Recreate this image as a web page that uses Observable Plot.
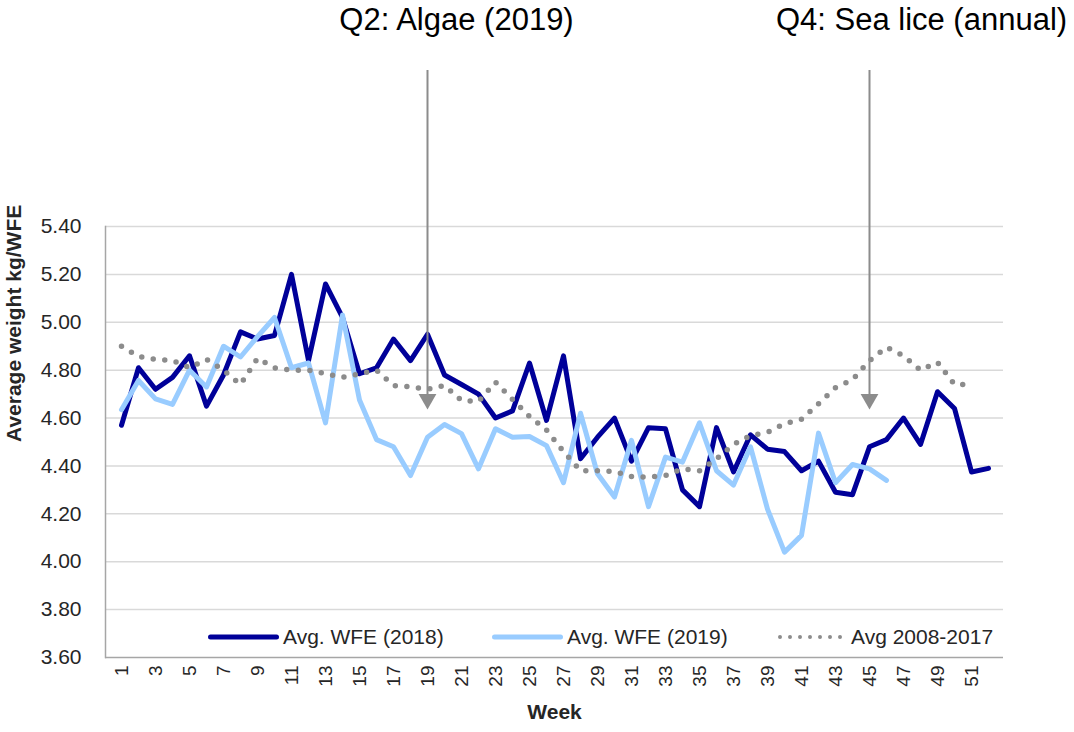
<!DOCTYPE html>
<html><head><meta charset="utf-8">
<script src="https://cdn.jsdelivr.net/npm/d3@7"></script>
<script src="https://cdn.jsdelivr.net/npm/@observablehq/plot@0.6"></script>
<style>
body{margin:0;background:#fff;font-family:"Liberation Sans",Arial,sans-serif;}
#wrap{position:relative;width:1074px;height:732px;overflow:hidden;}
#legend{position:absolute;top:624px;left:0;width:1074px;height:26px;}
.item{position:absolute;top:0;height:26px;display:flex;align-items:center;font-size:21px;color:#262626;white-space:nowrap}
.item svg{margin-right:4px;display:block}
</style></head><body><div id="wrap"></div>
<script>
const weeks = [1,2,3,4,5,6,7,8,9,10,11,12,13,14,15,16,17,18,19,20,21,22,23,24,25,26,27,28,29,30,31,32,33,34,35,36,37,38,39,40,41,42,43,44,45,46,47,48,49,50,51,52];
const xTickWeeks = [1,3,5,7,9,11,13,15,17,19,21,23,25,27,29,31,33,35,37,39,41,43,45,47,49,51];
const yTicks = [3.6,3.8,4.0,4.2,4.4,4.6,4.8,5.0,5.2,5.4];

const wfe2018 = [4.57,4.81,4.72,4.77,4.86,4.65,4.78,4.96,4.93,4.945,5.20,4.84,5.16,5.02,4.785,4.81,4.93,4.84,4.95,4.78,4.74,4.70,4.60,4.63,4.83,4.59,4.86,4.43,4.52,4.60,4.42,4.56,4.555,4.30,4.23,4.56,4.375,4.53,4.47,4.46,4.38,4.42,4.29,4.28,4.48,4.51,4.60,4.49,4.71,4.64,4.375,4.39];
const wfe2019 = [4.635,4.757,4.68,4.657,4.80,4.73,4.90,4.855,4.94,5.02,4.81,4.83,4.58,5.03,4.675,4.51,4.48,4.36,4.52,4.573,4.535,4.388,4.555,4.52,4.523,4.485,4.33,4.62,4.367,4.27,4.507,4.23,4.437,4.416,4.58,4.38,4.32,4.48,4.22,4.04,4.11,4.537,4.33,4.406,4.388,4.34];
const avg0817 = [4.90,4.857,4.845,4.84,4.81,4.845,4.80,4.74,4.85,4.81,4.80,4.80,4.785,4.77,4.785,4.80,4.736,4.73,4.72,4.736,4.673,4.67,4.75,4.678,4.607,4.55,4.46,4.38,4.38,4.377,4.356,4.353,4.36,4.388,4.38,4.43,4.49,4.527,4.54,4.576,4.595,4.66,4.727,4.76,4.84,4.896,4.86,4.80,4.833,4.74,4.74];

const seriesNames = ["Avg. WFE (2018)","Avg. WFE (2019)","Avg 2008-2017"];
const seriesColors = ["#000099","#99ccff","#8c8c8c"];

const annWeeks = [19,45];
const annLabels = ["Q2: Algae (2019)","Q4: Sea lice (annual)"];
const annArrowTop = 5.993;
const annArrowTip = 4.636;

const rows = vals => vals.map((v,i)=>({week: weeks[i], value: v}));
const annotations = annWeeks.map((w,i)=>({week:w, label:annLabels[i]}));

const plot = Plot.plot({
  width:1074, height:732,
  marginLeft:105, marginRight:71, marginTop:226, marginBottom:75,
  style:{fontFamily:'"Liberation Sans", Arial, sans-serif', fontSize:"21px", color:"#262626", background:"#fff", overflow:"visible"},
  x:{type:"point", domain:weeks, padding:0.5},
  y:{domain:[3.6,5.4]},
  marks:[
    Plot.ruleY(yTicks.slice(1), {stroke:"#d9d9d9", strokeWidth:1.5, strokeOpacity:1}),
    Plot.ruleY([3.6], {stroke:"#a6a6a6", strokeWidth:1.5, strokeOpacity:1}),
    Plot.frame({anchor:"left", stroke:"#a6a6a6", strokeWidth:1.5}),
    Plot.axisY(yTicks, {tickSize:0, tickPadding:24, tickFormat:d=>d.toFixed(2), fontSize:21, label:null}),
    Plot.axisX(xTickWeeks, {tickSize:0, tickRotate:-90, tickPadding:8, fontSize:19, label:null}),
    Plot.text(["Average weight kg/WFE"], {frameAnchor:"left", dx:-91, rotate:-90, fontWeight:"bold", fontSize:21, fill:"#262626"}),
    Plot.text(["Week"], {frameAnchor:"bottom", dy:61, fontWeight:"bold", fontSize:21, fill:"#262626"}),
    Plot.line(rows(wfe2018), {x:"week", y:"value", stroke:seriesColors[0], strokeWidth:5}),
    Plot.line(rows(wfe2019), {x:"week", y:"value", stroke:seriesColors[1], strokeWidth:5}),
    Plot.line(rows(avg0817), {x:"week", y:"value", stroke:seriesColors[2], strokeWidth:5.5, strokeDasharray:"0,11.6", strokeLinecap:"round"}),
    Plot.ruleX(annWeeks, {x:d=>d, y1:annArrowTop, y2:annArrowTip, dy:-14, stroke:"#8c8c8c", strokeWidth:2, strokeOpacity:1}),
    Plot.dot(annWeeks, {x:d=>d, y:annArrowTip, symbol:"triangle", rotate:180, r:6.6, fill:"#8c8c8c", stroke:"none", dy:-10.3}),
    Plot.text(annotations.slice(0,1), {x:"week", text:"label", frameAnchor:"top", lineAnchor:"middle", dy:-206, dx:29, fontSize:31, fill:"#000"}),
    Plot.text(annotations.slice(1,2), {x:"week", text:"label", frameAnchor:"top", lineAnchor:"middle", dy:-206, dx:52, fontSize:31, fill:"#000"})
  ]
});
document.getElementById("wrap").appendChild(plot);

const legend = document.createElement("div");
legend.id = "legend";
const legendLefts = [208, 492, 776];
seriesNames.forEach((name,i)=>{
  const it = document.createElement("div");
  it.className = "item";
  it.style.left = legendLefts[i] + "px";
  const dash = i===2 ? 'stroke-dasharray="0,10" stroke-width="4"' : 'stroke-width="5"';
  it.innerHTML = `<svg width="71" height="10"><line x1="${i===2?4:2.5}" x2="${i===2?67:68.5}" y1="5" y2="5" stroke="${seriesColors[i]}" ${dash} stroke-linecap="round"/></svg><span>${name}</span>`;
  legend.appendChild(it);
});
document.getElementById("wrap").appendChild(legend);
</script>
</body></html>
